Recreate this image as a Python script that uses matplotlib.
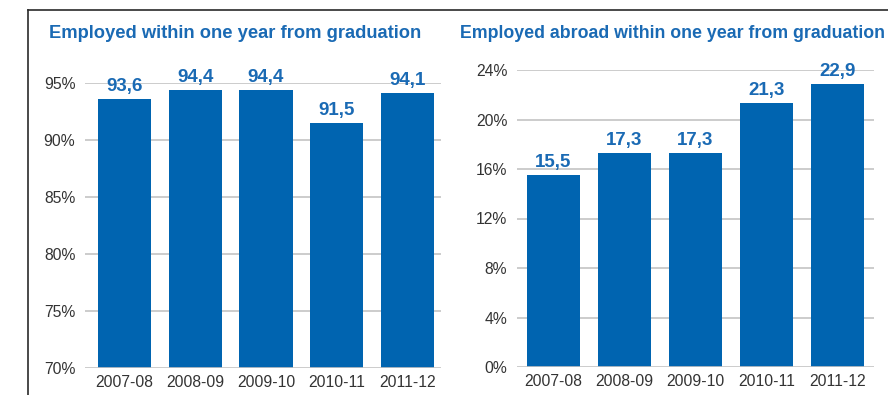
import matplotlib
matplotlib.use("Agg")
from matplotlib import pyplot as plt
from matplotlib.lines import Line2D

plt.rcParams['font.family'] = ['Liberation Sans', 'DejaVu Sans']

years = ["2007-08", "2008-09", "2009-10", "2010-11", "2011-12"]
employed = [93.6, 94.4, 94.4, 91.5, 94.1]
employed_abroad = [15.5, 17.3, 17.3, 21.3, 22.9]

employed_ticks = [70, 75, 80, 85, 90, 95]
abroad_ticks = [0, 4, 8, 12, 16, 20, 24]

bar_color = "#0064b0"
title_color = "#1a6ab4"
grid_color = "#c4c4c4"
text_color = "#333333"

fig = plt.figure(figsize=(8.88, 3.95), dpi=100)


def panel(rect, values, ticks, xlim, title, title_x, title_size):
	ax = fig.add_axes(rect)
	x = range(len(values))
	bottom = ticks[0]
	ax.bar(x, [v - bottom for v in values], bottom=bottom, width=0.75,
		color=bar_color, zorder=2)
	for t in ticks:
		ax.axhline(t, color=grid_color, linewidth=1.2,
			zorder=1 if t != ticks[0] else 3)
	for xi, v in zip(x, values):
		ax.annotate(f"{v:.1f}".replace(".", ","), (xi, v), xytext=(0, 9),
			textcoords="offset points", ha="center", va="center",
			fontsize=13.5, fontweight="bold", color=title_color,
			annotation_clip=False, zorder=4)
	ax.set_xlim(*xlim)
	ax.set_ylim(ticks[0], ticks[-1])
	ax.set_xticks(list(x))
	ax.set_xticklabels(years)
	ax.set_yticks(ticks)
	ax.set_yticklabels([f"{t}%" for t in ticks])
	ax.tick_params(length=0, labelsize=11.3, labelcolor=text_color)
	ax.tick_params(axis="y", pad=7)
	ax.tick_params(axis="x", pad=5)
	for s in ax.spines.values():
		s.set_visible(False)
	fig.text(title_x, 1 - 33 / 395, title, ha="left", va="center",
		fontsize=title_size, fontweight="bold", color=title_color)
	return ax


panel([85 / 888, 27 / 395, 356 / 888, 285 / 395], employed, employed_ticks,
	(-0.558, 4.473), "Employed within one year from graduation", 49 / 888, 13.2)
panel([517 / 888, 28 / 395, 357 / 888, 297 / 395], employed_abroad, abroad_ticks,
	(-0.514, 4.514), "Employed abroad within one year from graduation", 460 / 888, 12.8)

# frame around the left panel
fig.add_artist(Line2D([28 / 888, 1], [1 - 10 / 395] * 2, color="#2a2a2a", linewidth=1.2))
fig.add_artist(Line2D([28 / 888] * 2, [0, 1 - 10 / 395], color="#2a2a2a", linewidth=1.2))

fig.savefig("out.png", dpi=100)
